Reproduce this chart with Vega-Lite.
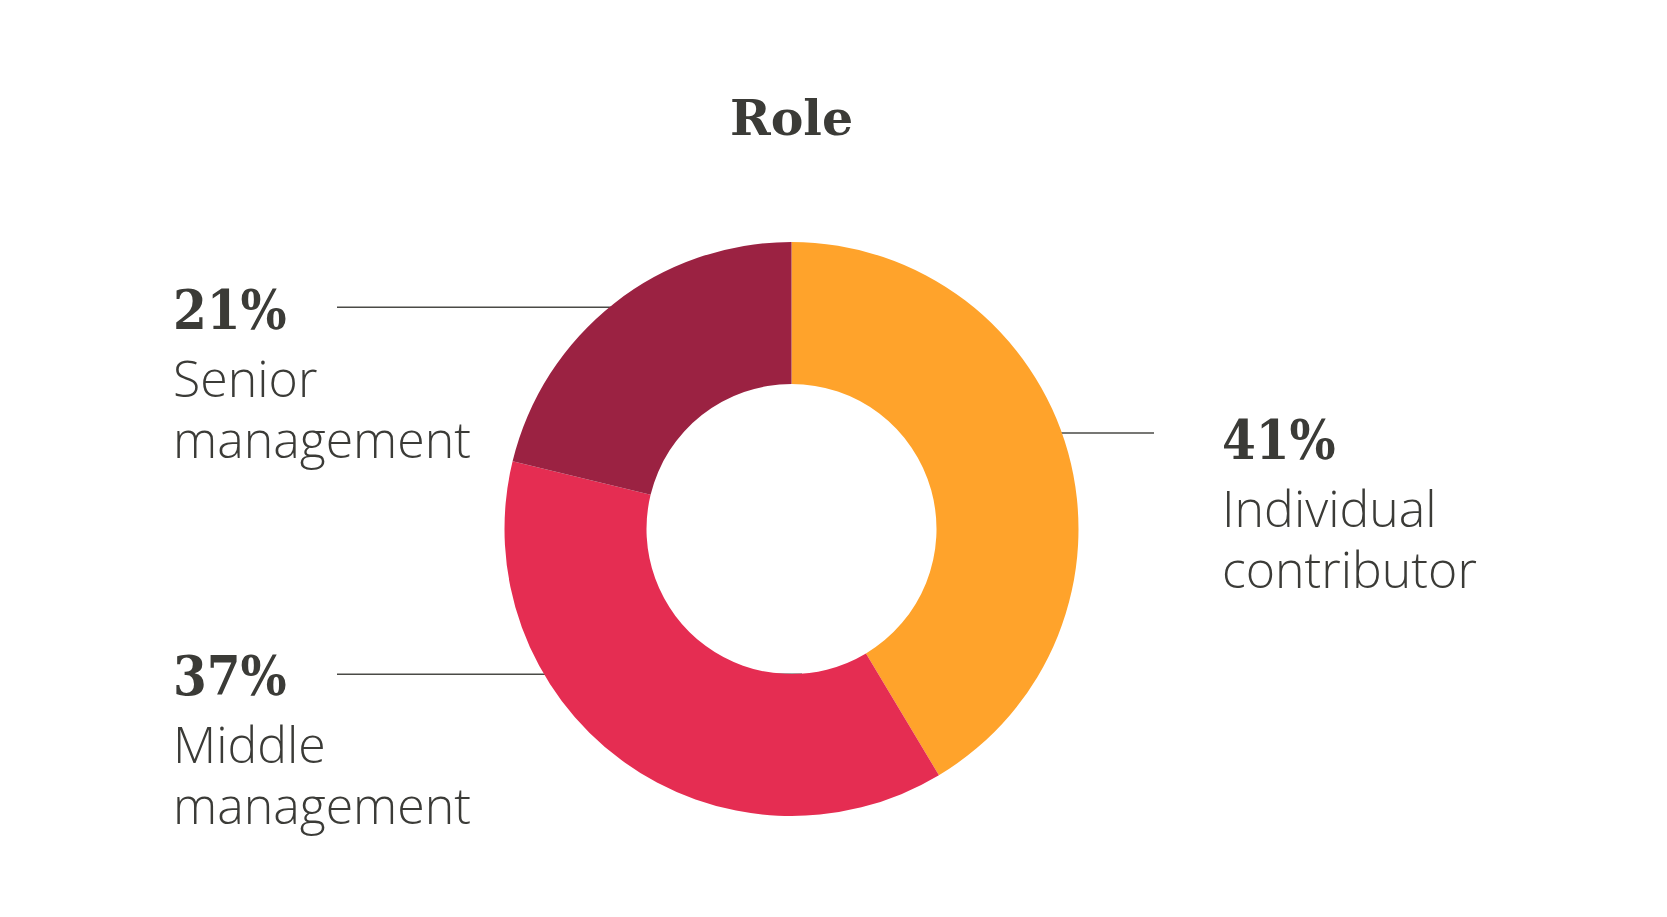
{
  "$schema": "https://vega.github.io/schema/vega-lite/v6.json",
  "autosize": {"type": "none"},
  "padding": {"left": 0, "top": 141, "right": 84, "bottom": 0},
  "width": 1583,
  "height": 776,
  "background": "white",
  "config": {"view": {"stroke": null}},
  "title": {
    "text": "Role",
    "font": "DejaVu Serif",
    "fontWeight": "bold",
    "fontSize": 49,
    "color": "#3b3b37",
    "anchor": "middle",
    "baseline": "alphabetic",
    "offset": -43,
    "frame": "group"
  },
  "data": {
    "values": [
      {"role": "Individual contributor", "share": 0.41},
      {"role": "Middle management", "share": 0.37},
      {"role": "Senior management", "share": 0.21}
    ]
  },
  "layer": [
    {
      "mark": {"type": "tick", "orient": "horizontal", "thickness": 1.5, "color": "#4a4a46", "opacity": 1},
      "encoding": {
        "x": {"field": "share", "type": "quantitative", "axis": null,
              "scale": {"domain": [0.21, 0.37, 0.41], "range": [488.5, 569.5, 1092], "zero": false, "nice": false}},
        "y": {"field": "share", "type": "quantitative", "axis": null,
              "scale": {"domain": [0.21, 0.37, 0.41], "range": [166.3, 533.3, 292], "zero": false, "nice": false}},
        "size": {"field": "share", "type": "quantitative", "legend": null,
                 "scale": {"type": "linear", "domain": [0.21, 0.37, 0.41], "range": [303, 465, 124], "zero": false}}
      }
    },
    {
      "mark": {"type": "arc", "outerRadius": 287, "innerRadius": 145},
      "encoding": {
        "theta": {"field": "share", "type": "quantitative", "stack": true},
        "color": {"field": "role", "type": "nominal", "legend": null,
                  "scale": {"domain": ["Individual contributor", "Middle management", "Senior management"],
                            "range": ["#FFA32B", "#E52D52", "#9B2242"]}},
        "order": {"field": "role", "type": "nominal", "sort": "ascending"}
      }
    },
    {
      "mark": {"type": "text", "align": "left", "baseline": "alphabetic",
               "font": "DejaVu Serif Condensed, DejaVu Serif", "fontWeight": "bold", "fontSize": 54, "color": "#3b3b37"},
      "encoding": {
        "x": {"field": "share", "type": "quantitative", "axis": null,
              "scale": {"domain": [0.21, 0.37, 0.41], "range": [173, 173, 1222], "zero": false, "nice": false}},
        "y": {"field": "share", "type": "quantitative", "axis": null,
              "scale": {"domain": [0.21, 0.37, 0.41], "range": [188, 554, 318], "zero": false, "nice": false}},
        "text": {"field": "share", "type": "quantitative", "format": ".0%"}
      }
    },
    {
      "mark": {"type": "text", "align": "left", "baseline": "top", "dy": 28, "lineBreak": " ", "lineHeight": 61,
               "font": "Open Sans", "fontWeight": 350, "fontSize": 50, "color": "#3b3b37"},
      "encoding": {
        "x": {"field": "share", "type": "quantitative", "axis": null,
              "scale": {"domain": [0.21, 0.37, 0.41], "range": [173, 173, 1222], "zero": false, "nice": false}},
        "y": {"field": "share", "type": "quantitative", "axis": null,
              "scale": {"domain": [0.21, 0.37, 0.41], "range": [188, 554, 318], "zero": false, "nice": false}},
        "text": {"field": "role", "type": "nominal"}
      }
    }
  ],
  "resolve": {"scale": {"x": "independent", "y": "independent", "size": "independent"}}
}
